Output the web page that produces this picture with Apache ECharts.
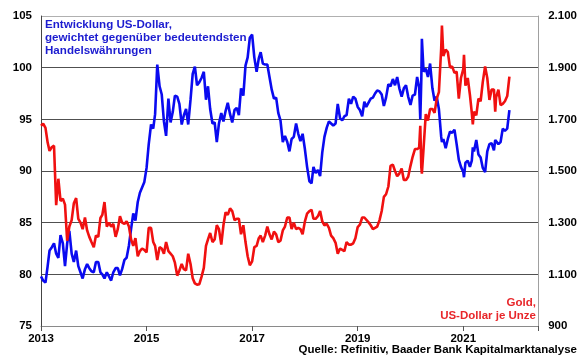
<!DOCTYPE html>
<html>
<head>
<meta charset="utf-8">
<script src="https://cdn.jsdelivr.net/npm/echarts@6/dist/echarts.min.js"></script>
<style>
html,body{margin:0;padding:0;background:#fff;}
#c{width:580px;height:359px;}
</style>
</head>
<body>
<div id="c"></div>
<script>
// Semi-monthly readings (1st and 16th of each month), 2013 .. Nov 2021
const years = [2013, 2014, 2015, 2016, 2017, 2018, 2019, 2020, 2021];

// US-Dollar index (left axis)
const dollar2013 = [79.8, 79.4, 79.2, 80.8, 82.3, 82.6, 83.0, 82.0, 81.6, 83.8, 83.0, 80.8, 83.0, 84.2, 82.0, 81.2, 82.3, 80.8, 80.2, 79.6, 80.5, 81.0, 80.6, 80.3];
const dollar2014 = [80.2, 81.2, 81.2, 80.2, 80.0, 79.6, 80.2, 79.8, 79.4, 80.2, 80.6, 80.6, 79.9, 80.5, 81.4, 81.6, 82.8, 84.4, 85.9, 85.2, 87.0, 87.9, 88.4, 88.9];
const dollar2015 = [90.3, 92.6, 94.5, 94.1, 95.5, 100.3, 98.2, 97.4, 94.8, 93.4, 97.0, 94.7, 95.7, 97.3, 97.2, 96.5, 94.5, 95.4, 96.0, 94.5, 96.9, 99.4, 100.1, 98.3];
const dollar2016 = [98.6, 99.0, 99.6, 96.9, 98.2, 96.0, 94.6, 94.7, 92.8, 94.6, 95.6, 94.8, 95.8, 96.6, 95.5, 94.7, 95.9, 96.1, 95.4, 98.0, 97.3, 100.2, 101.0, 102.9];
const dollar2017 = [103.2, 101.0, 99.6, 100.9, 101.5, 100.4, 100.3, 100.3, 99.1, 97.9, 97.0, 97.1, 95.6, 94.9, 92.8, 93.4, 92.8, 91.9, 93.1, 93.3, 94.6, 93.6, 92.9, 93.6];
const dollar2018 = [92.1, 90.4, 89.0, 88.8, 90.4, 89.8, 90.1, 89.5, 91.8, 93.3, 94.2, 94.8, 94.6, 94.4, 94.6, 96.5, 95.1, 94.9, 95.3, 95.4, 97.0, 96.5, 97.2, 97.0];
const dollar2019 = [96.2, 95.9, 95.3, 96.7, 96.2, 96.6, 97.0, 97.1, 97.5, 97.8, 97.7, 97.4, 96.3, 97.1, 98.4, 98.2, 98.9, 98.3, 99.1, 98.0, 97.2, 98.0, 98.3, 97.2];
const dollar2020 = [96.4, 97.3, 97.4, 99.1, 98.1, 98.8, 99.6, 99.9, 99.1, 100.4, 98.0, 96.8, 97.2, 96.0, 93.3, 93.1, 92.2, 93.1, 93.8, 93.7, 94.0, 92.6, 91.1, 90.4];
const dollar2021 = [89.9, 90.8, 91.0, 90.4, 91.0, 91.9, 93.0, 91.6, 91.3, 90.3, 89.9, 91.9, 92.6, 92.7, 92.0, 92.9, 92.6, 92.8, 94.1, 93.9, 94.1, 95.9];

// Gold, US-Dollar per ounce (right axis)
const gold2013 = [1675, 1683, 1667, 1610, 1578, 1592, 1598, 1368, 1470, 1384, 1393, 1370, 1230, 1285, 1310, 1375, 1395, 1315, 1300, 1275, 1320, 1270, 1245, 1225];
const gold2014 = [1205, 1250, 1245, 1318, 1330, 1380, 1285, 1300, 1285, 1295, 1245, 1275, 1325, 1300, 1295, 1305, 1285, 1235, 1210, 1240, 1170, 1190, 1200, 1195];
const gold2015 = [1185, 1280, 1280, 1225, 1210, 1155, 1205, 1200, 1180, 1225, 1190, 1180, 1170, 1145, 1095, 1115, 1140, 1120, 1115, 1180, 1140, 1085, 1065, 1060];
const gold2016 = [1062, 1090, 1125, 1210, 1235, 1260, 1225, 1235, 1290, 1275, 1215, 1290, 1340, 1330, 1355, 1345, 1310, 1315, 1315, 1255, 1290, 1225, 1170, 1135];
const gold2017 = [1150, 1205, 1210, 1240, 1250, 1225, 1250, 1285, 1255, 1235, 1265, 1255, 1225, 1230, 1270, 1285, 1320, 1320, 1275, 1300, 1275, 1280, 1275, 1255];
const gold2018 = [1305, 1335, 1345, 1350, 1315, 1315, 1325, 1345, 1305, 1290, 1295, 1280, 1250, 1240, 1222, 1180, 1200, 1195, 1190, 1225, 1215, 1215, 1220, 1240];
const gold2019 = [1283, 1292, 1320, 1320, 1313, 1302, 1290, 1275, 1280, 1285, 1310, 1345, 1400, 1410, 1440, 1520, 1525, 1500, 1480, 1490, 1510, 1465, 1465, 1478];
const gold2020 = [1520, 1555, 1585, 1585, 1590, 1515, 1590, 1720, 1695, 1740, 1740, 1725, 1780, 1805, 1975, 1945, 1970, 1960, 1900, 1905, 1880, 1885, 1780, 1860];
const gold2021 = [1895, 1830, 1860, 1795, 1725, 1730, 1715, 1780, 1770, 1845, 1905, 1860, 1775, 1815, 1815, 1785, 1815, 1755, 1760, 1770, 1790, 1865];

// Extra readings at turning points: [date, dollar, gold]
const extraDates  = ['2020-03-09', '2020-03-20', '2020-08-06', '2021-01-06', '2021-03-08', '2021-08-10'];
const extraDollar = [95.0, 102.8, 92.8, 89.4, 92.3, 93.0];
const extraGold   = [1675, 1490, 2063, 1950, 1680, 1730];

const xTickLabels = ['2013', '2015', '2017', '2019', '2021'];
const leftTicks = ['75', '80', '85', '90', '95', '100', '105'];
const rightTicks = ['900', '1.100', '1.300', '1.500', '1.700', '1.900', '2.100'];

const dollarByYear = [dollar2013, dollar2014, dollar2015, dollar2016, dollar2017, dollar2018, dollar2019, dollar2020, dollar2021];
const goldByYear = [gold2013, gold2014, gold2015, gold2016, gold2017, gold2018, gold2019, gold2020, gold2021];

function decYear(y, m, d) {
  const t = Date.UTC(y, m, d), s = Date.UTC(y, 0, 1), e = Date.UTC(y + 1, 0, 1);
  return y + (t - s) / (e - s);
}

let rows = [];
years.forEach((y, yi) => {
  dollarByYear[yi].forEach((v, i) => {
    rows.push([decYear(y, Math.floor(i / 2), i % 2 ? 16 : 1), v, goldByYear[yi][i]]);
  });
});
extraDates.forEach((ds, i) => {
  const p = ds.split('-').map(Number);
  rows.push([decYear(p[0], p[1] - 1, p[2]), extraDollar[i], extraGold[i]]);
});
rows.sort((a, b) => a[0] - b[0]);
const dollarData = rows.map(r => [r[0], r[1]]);
const goldData = rows.map(r => [r[0], r[2]]);

const chart = echarts.init(document.getElementById('c'), null, {renderer: 'canvas'});
const labelFont = {color: '#000', fontWeight: 'bold', fontSize: 11.5, fontFamily: 'Liberation Sans, Arial, sans-serif'};

chart.setOption({
  animation: false,
  backgroundColor: '#fff',
  grid: {left: 41, right: 40, top: 16, bottom: 33, containLabel: false},
  xAxis: {
    type: 'value', min: 2013, max: 2022.42, interval: 2,
    axisLine: {show: true, lineStyle: {color: '#8a8a8a', width: 1}},
    axisTick: {show: true, length: 5, lineStyle: {color: '#555'}},
    splitLine: {show: false},
    axisLabel: Object.assign({}, labelFont, {
      margin: 7, fontSize: 11.5,
      formatter: v => { const s = String(v); return xTickLabels.indexOf(s) >= 0 ? s : ''; }
    })
  },
  yAxis: [{
    type: 'value', min: 75, max: 105, interval: 5, position: 'left',
    axisLine: {show: true, lineStyle: {color: '#444', width: 1}},
    axisTick: {show: false},
    splitLine: {show: true, lineStyle: {color: ['#8a8a8a', '#505050', '#505050', '#505050', '#505050', '#505050', '#b0b0b0'], width: 1}},
    axisLabel: Object.assign({}, labelFont, {margin: 9, formatter: v => leftTicks[Math.round((v - 75) / 5)]})
  }, {
    type: 'value', min: 900, max: 2100, interval: 200, position: 'right',
    axisLine: {show: true, lineStyle: {color: '#a0a0a0', width: 1}},
    axisTick: {show: false},
    splitLine: {show: false},
    axisLabel: Object.assign({}, labelFont, {margin: 10, formatter: v => rightTicks[Math.round((v - 900) / 200)]})
  }],
  series: [{
    name: 'US-Dollar', type: 'line', yAxisIndex: 0, data: dollarData,
    showSymbol: false, symbol: 'none', smooth: false,
    lineStyle: {color: '#0a0af0', width: 2.6}, z: 3
  }, {
    name: 'Gold', type: 'line', yAxisIndex: 1, data: goldData,
    showSymbol: false, symbol: 'none', smooth: false,
    lineStyle: {color: '#f01010', width: 2.6}, z: 4
  }],
  graphic: [{
    type: 'text', x: 45, y: 18, z: 10,
    style: {
      text: 'Entwicklung US-Dollar,\ngewichtet gegenüber bedeutendsten\nHandelswährungen',
      fill: '#1c1cd0', font: 'bold 11.6px "Liberation Sans", Arial, sans-serif', lineHeight: 13
    }
  }, {
    type: 'text', x: 536, y: 297, z: 10,
    style: {
      text: 'Gold,\nUS-Dollar je Unze', align: 'right', verticalAlign: 'top',
      fill: '#e8262a', font: 'bold 11.5px "Liberation Sans", Arial, sans-serif', lineHeight: 12.5
    }
  }, {
    type: 'text', x: 577, y: 344, z: 10,
    style: {
      text: 'Quelle: Refinitiv, Baader Bank Kapitalmarktanalyse', align: 'right', verticalAlign: 'top',
      fill: '#000', font: 'bold 11.5px "Liberation Sans", Arial, sans-serif'
    }
  }]
});
</script>
</body>
</html>
